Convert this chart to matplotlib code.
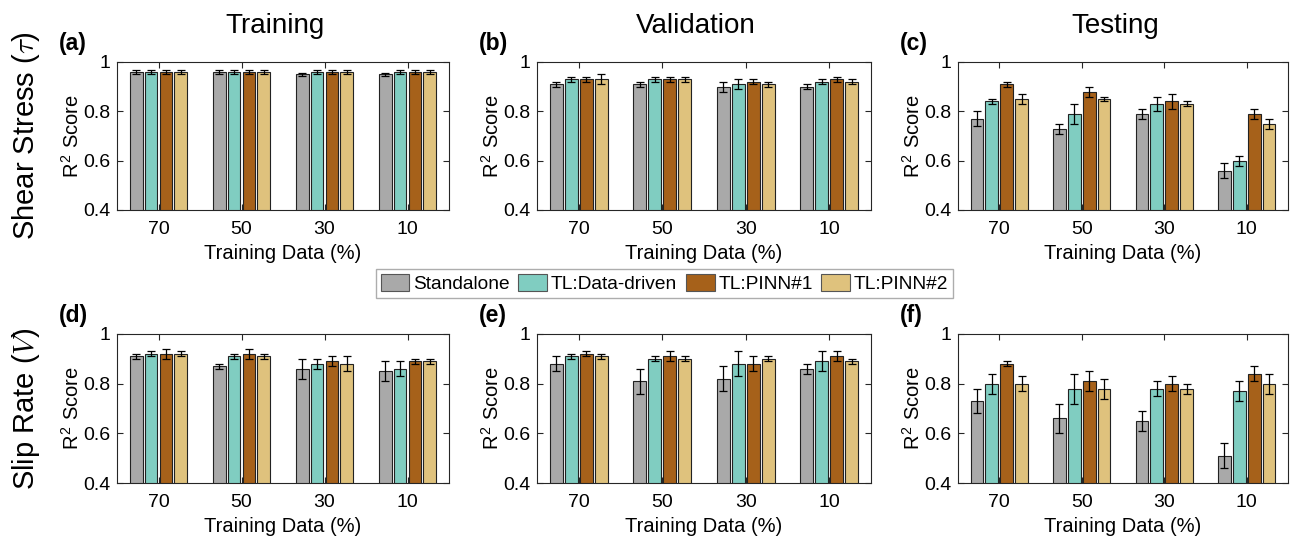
import numpy as np
import matplotlib.pyplot as plt
from matplotlib.patches import Patch

plt.rcParams['font.family'] = ['Liberation Sans', 'DejaVu Sans']
plt.rcParams['mathtext.fontset'] = 'cm'

categories = ['70', '50', '30', '10']
models = ['Standalone', 'TL:Data-driven', 'TL:PINN#1', 'TL:PINN#2']
colors = ['#a9a9a9', '#80cdc1', '#a6611a', '#dfc27d']

# one row per model, one column per training data fraction (70, 50, 30, 10 %)
shear_train = [[0.96, 0.96, 0.95, 0.95],
               [0.96, 0.96, 0.96, 0.96],
               [0.96, 0.96, 0.96, 0.96],
               [0.96, 0.96, 0.96, 0.96]]
shear_train_err = [[0.007, 0.007, 0.007, 0.007],
                   [0.007, 0.007, 0.007, 0.007],
                   [0.007, 0.007, 0.007, 0.007],
                   [0.007, 0.007, 0.007, 0.007]]

shear_val = [[0.91, 0.91, 0.90, 0.90],
             [0.93, 0.93, 0.91, 0.92],
             [0.93, 0.93, 0.92, 0.93],
             [0.93, 0.93, 0.91, 0.92]]
shear_val_err = [[0.01, 0.01, 0.02, 0.01],
                 [0.01, 0.01, 0.02, 0.01],
                 [0.01, 0.01, 0.01, 0.01],
                 [0.02, 0.01, 0.01, 0.01]]

shear_test = [[0.77, 0.73, 0.79, 0.56],
              [0.84, 0.79, 0.83, 0.60],
              [0.91, 0.88, 0.84, 0.79],
              [0.85, 0.85, 0.83, 0.75]]
shear_test_err = [[0.03, 0.02, 0.02, 0.03],
                  [0.01, 0.04, 0.03, 0.02],
                  [0.01, 0.02, 0.03, 0.02],
                  [0.02, 0.01, 0.01, 0.02]]

slip_train = [[0.91, 0.87, 0.86, 0.85],
              [0.92, 0.91, 0.88, 0.86],
              [0.92, 0.92, 0.89, 0.89],
              [0.92, 0.91, 0.88, 0.89]]
slip_train_err = [[0.01, 0.01, 0.04, 0.04],
                  [0.01, 0.01, 0.02, 0.03],
                  [0.02, 0.02, 0.02, 0.01],
                  [0.01, 0.01, 0.03, 0.01]]

slip_val = [[0.88, 0.81, 0.82, 0.86],
            [0.91, 0.90, 0.88, 0.89],
            [0.92, 0.91, 0.88, 0.91],
            [0.91, 0.90, 0.90, 0.89]]
slip_val_err = [[0.03, 0.05, 0.05, 0.02],
                [0.01, 0.01, 0.05, 0.04],
                [0.01, 0.02, 0.03, 0.02],
                [0.01, 0.01, 0.01, 0.01]]

slip_test = [[0.73, 0.66, 0.65, 0.51],
             [0.80, 0.78, 0.78, 0.77],
             [0.88, 0.81, 0.80, 0.84],
             [0.80, 0.78, 0.78, 0.80]]
slip_test_err = [[0.05, 0.06, 0.04, 0.05],
                 [0.04, 0.06, 0.03, 0.04],
                 [0.01, 0.04, 0.03, 0.03],
                 [0.03, 0.04, 0.02, 0.04]]

panels = [[(shear_train, shear_train_err), (shear_val, shear_val_err), (shear_test, shear_test_err)],
          [(slip_train, slip_train_err), (slip_val, slip_val_err), (slip_test, slip_test_err)]]
col_titles = ['Training', 'Validation', 'Testing']
row_titles = [r'Shear Stress ($\tau$)', r'Slip Rate ($V$)']
letters = ['(a)', '(b)', '(c)', '(d)', '(e)', '(f)']

W, H = 1296, 537
fig = plt.figure(figsize=(W / 100, H / 100), dpi=100)

lefts = [117, 537, 958]
widths = [332, 334, 330]
tops = [62, 334]
heights = [148, 149]

x = np.arange(1, len(categories) + 1)
offsets = [-0.27, -0.09, 0.09, 0.27]
bw = 0.155
axcol = '#262626'

for r in range(2):
    for c in range(3):
        ax = fig.add_axes([lefts[c] / W, 1 - (tops[r] + heights[r]) / H,
                           widths[c] / W, heights[r] / H])
        means, errs = panels[r][c]
        for k in range(4):
            ax.bar(x + offsets[k], means[k], bw, yerr=errs[k], color=colors[k],
                   edgecolor='#222222', linewidth=0.8,
                   error_kw=dict(ecolor='k', elinewidth=0.9, capsize=2.8, capthick=0.9))
        ax.set_xlim(0.5, 4.5)
        ax.set_ylim(0.4, 1)
        ax.set_xticks(x, categories)
        ax.set_yticks([0.4, 0.6, 0.8, 1.0], ['0.4', '0.6', '0.8', '1'])
        ax.tick_params(direction='in', top=True, right=True, length=4, width=0.8,
                       labelsize=14, color=axcol)
        ax.tick_params(axis='x', pad=8)
        ax.tick_params(axis='y', pad=5)
        for s in ax.spines.values():
            s.set_color(axcol)
            s.set_linewidth(0.8)
        ax.set_xlabel('Training Data (%)', fontsize=14.5, labelpad=4)
        ax.set_ylabel(r'R$^{\mathregular{2}}$ Score', fontsize=14.5, labelpad=0)

        fig.text((lefts[c] - 58) / W, 1 - (tops[r] - 12) / H, letters[r * 3 + c],
                 fontsize=16.5, fontweight='bold', va='baseline', ha='left')
        if r == 0:
            fig.text((lefts[c] + widths[c] / 2 - 8) / W, 1 - 33 / H, col_titles[c],
                     fontsize=20, ha='center', va='baseline')
    fig.text(26 / W, 1 - (tops[r] + heights[r] / 2) / H, row_titles[r],
             fontsize=21, rotation=90, ha='center', va='center')

handles = [Patch(facecolor=colors[k], edgecolor='#555555', linewidth=0.8) for k in range(4)]
fig.legend(handles, models, loc='center', bbox_to_anchor=(664.5 / W, 1 - 283.5 / H),
           ncol=4, fontsize=13.8, frameon=True, fancybox=False, edgecolor='#999999',
           handlelength=1.5, handleheight=0.95, handletextpad=0.2,
           columnspacing=0.45, borderpad=0.25)

fig.savefig('out.png', dpi=100)
